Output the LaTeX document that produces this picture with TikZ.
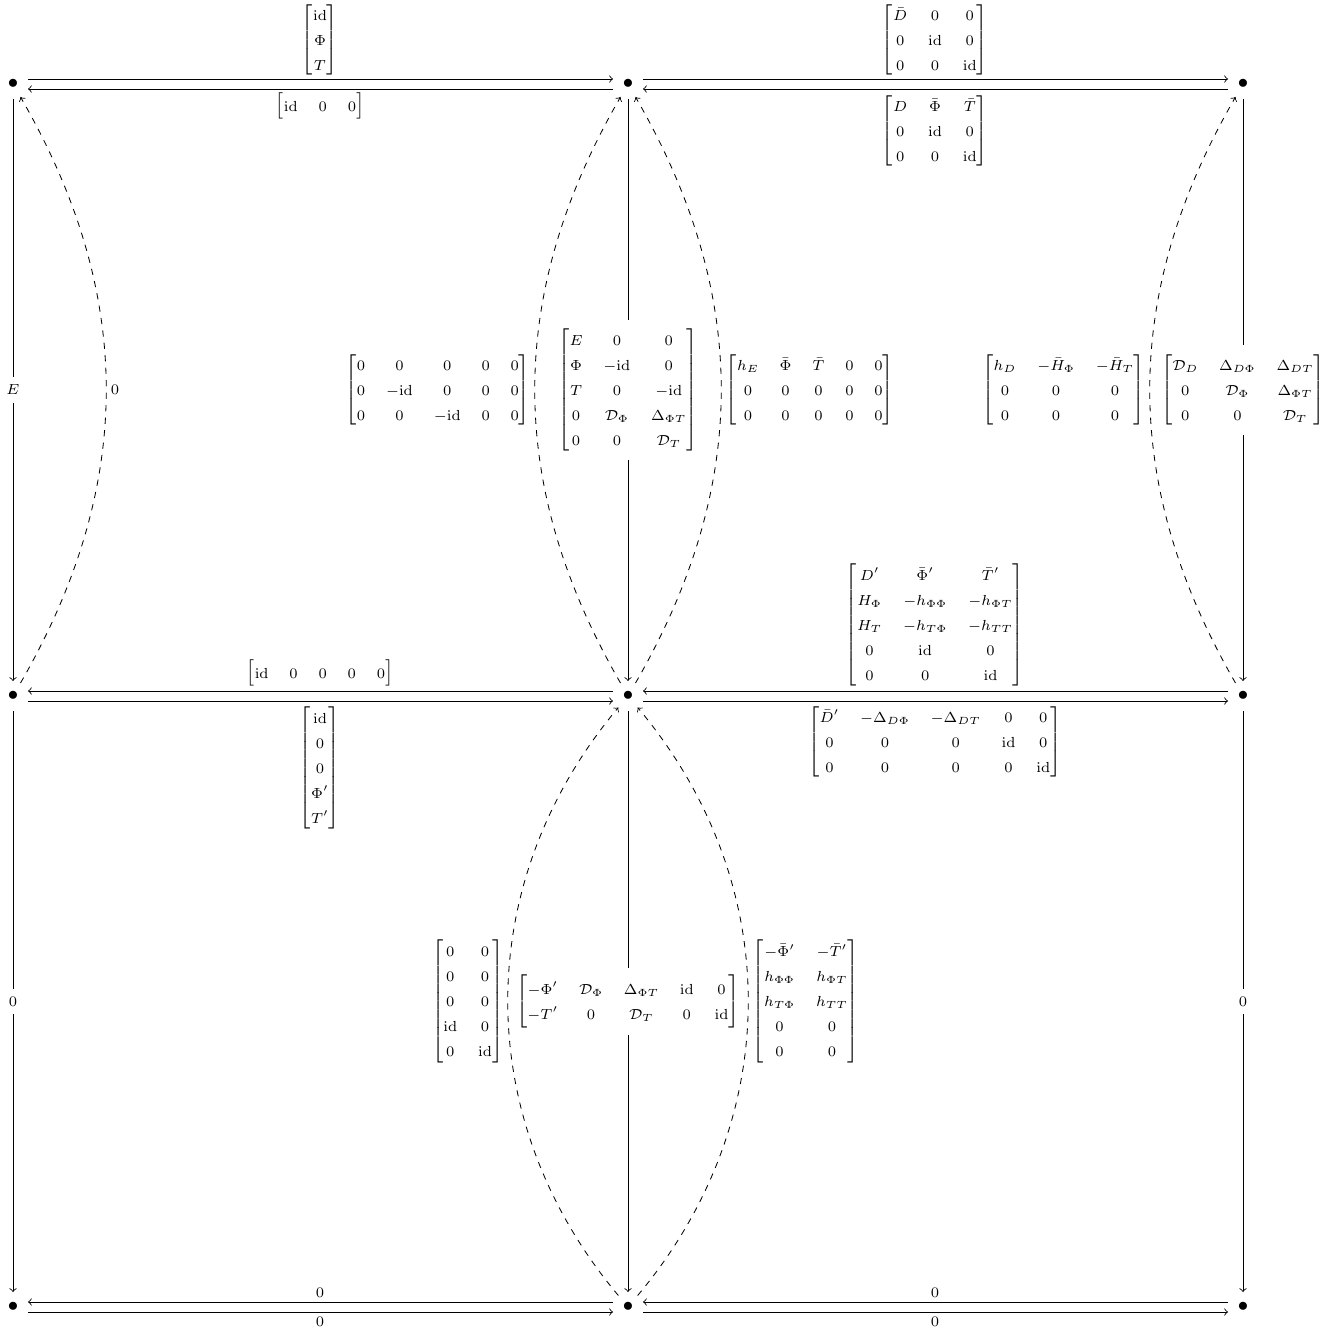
\documentclass[tikz,border=0pt]{standalone}
\usepackage{amsmath}
\tikzset{
  pt/.style={circle, minimum size=14pt, inner sep=0pt},
  lab/.style={font=\everymath\expandafter{\the\everymath\scriptstyle}, inner sep=0pt},
  desc/.style={lab, fill=white, inner sep=3.7pt},
  side/.style={lab, inner sep=2pt},
  arr/.style={->},
  homot/.style={->, dashed},
}
\newcommand{\idm}{\mathrm{id}}
\begin{document}
\begin{tikzpicture}[x=0.48pt,y=-0.48pt,>=to,line width=0.4pt]
\useasboundingbox (0,0) rectangle (1337,1332);
% vertices
\node[pt] (A1) at (13,84) {$\bullet$};
\node[pt] (B1) at (628,84) {$\bullet$};
\node[pt] (C1) at (1243,84) {$\bullet$};
\node[pt] (A2) at (13,696) {$\bullet$};
\node[pt] (B2) at (628,696) {$\bullet$};
\node[pt] (C2) at (1243,696) {$\bullet$};
\node[pt] (A3) at (13,1307) {$\bullet$};
\node[pt] (B3) at (628,1307) {$\bullet$};
\node[pt] (C3) at (1243,1307) {$\bullet$};

% row 1
\draw[arr] ([yshift=2.4pt]A1.east) -- ([yshift=2.4pt]B1.west);
\draw[arr] ([yshift=-2.4pt]B1.west) -- ([yshift=-2.4pt]A1.east);
\draw[arr] ([yshift=2.4pt]B1.east) -- ([yshift=2.4pt]C1.west);
\draw[arr] ([yshift=-2.4pt]C1.west) -- ([yshift=-2.4pt]B1.east);
\node[lab] (l1) at (320,40) {$\begin{bmatrix}\idm\\\Phi\\T\end{bmatrix}$};
\node[lab] (l2) at (320,106) {$\begin{bmatrix}\idm&0&0\end{bmatrix}$};
\node[lab] (l3) at (935,40) {$\begin{bmatrix}\bar D&0&0\\0&\idm&0\\0&0&\idm\end{bmatrix}$};
\node[lab] (l4) at (935,131) {$\begin{bmatrix}D&\bar\Phi&\bar T\\0&\idm&0\\0&0&\idm\end{bmatrix}$};

% row 2
\draw[arr] ([yshift=2.4pt]B2.west) -- ([yshift=2.4pt]A2.east);
\draw[arr] ([yshift=-2.4pt]A2.east) -- ([yshift=-2.4pt]B2.west);
\draw[arr] ([yshift=2.4pt]C2.west) -- ([yshift=2.4pt]B2.east);
\draw[arr] ([yshift=-2.4pt]B2.east) -- ([yshift=-2.4pt]C2.west);
\node[lab] (l5) at (320,673) {$\begin{bmatrix}\idm&0&0&0&0\end{bmatrix}$};
\node[lab] (l6) at (320,768) {$\begin{bmatrix}\idm\\0\\0\\\Phi'\\T'\end{bmatrix}$};
\node[lab] (l7) at (935,625) {$\begin{bmatrix}D'&\bar\Phi'&\bar T'\\H_\Phi&-h_{\Phi\Phi}&-h_{\Phi T}\\H_T&-h_{T\Phi}&-h_{TT}\\0&\idm&0\\0&0&\idm\end{bmatrix}$};
\node[lab] (l8) at (935,742) {$\begin{bmatrix}\bar D'&-\Delta_{D\Phi}&-\Delta_{DT}&0&0\\0&0&0&\idm&0\\0&0&0&0&\idm\end{bmatrix}$};

% row 3
\draw[arr] ([yshift=2.4pt]B3.west) -- ([yshift=2.4pt]A3.east);
\draw[arr] ([yshift=-2.4pt]A3.east) -- ([yshift=-2.4pt]B3.west);
\draw[arr] ([yshift=2.4pt]C3.west) -- ([yshift=2.4pt]B3.east);
\draw[arr] ([yshift=-2.4pt]B3.east) -- ([yshift=-2.4pt]C3.west);
\node[lab] (l9) at (320,1293) {$0$};
\node[lab] (l10) at (320,1322) {$0$};
\node[lab] (l11) at (935,1293) {$0$};
\node[lab] (l12) at (935,1322) {$0$};

% verticals
\draw[arr] (A1) -- node[desc] (v1) {$E$} (A2);
\draw[arr] (B1) -- node[desc] (v2) {$\begin{bmatrix}E&0&0\\\Phi&-\idm&0\\T&0&-\idm\\0&\mathcal{D}_\Phi&\Delta_{\Phi T}\\0&0&\mathcal{D}_T\end{bmatrix}$} (B2);
\draw[arr] (C1) -- node[desc] (v3) {$\begin{bmatrix}\mathcal{D}_D&\Delta_{D\Phi}&\Delta_{DT}\\0&\mathcal{D}_\Phi&\Delta_{\Phi T}\\0&0&\mathcal{D}_T\end{bmatrix}$} (C2);
\draw[arr] (A2) -- node[desc] (v4) {$0$} (A3);
\draw[arr] (B2) -- node[desc] (v5) {$\begin{bmatrix}-\Phi'&\mathcal{D}_\Phi&\Delta_{\Phi T}&\idm&0\\-T'&0&\mathcal{D}_T&0&\idm\end{bmatrix}$} (B3);
\draw[arr] (C2) -- node[desc] (v6) {$0$} (C3);

% homotopies
\draw[homot] (A2) to[bend right=30] node[side, right] (h1) {$0$} (A1);
\draw[homot] (B2) to[bend left=30] node[side, left] (h2) {$\begin{bmatrix}0&0&0&0&0\\0&-\idm&0&0&0\\0&0&-\idm&0&0\end{bmatrix}$} (B1);
\draw[homot] (B2) to[bend right=30] node[side, right] (h3) {$\begin{bmatrix}h_E&\bar\Phi&\bar T&0&0\\0&0&0&0&0\\0&0&0&0&0\end{bmatrix}$} (B1);
\draw[homot] (C2) to[bend left=30] node[side, left] (h4) {$\begin{bmatrix}h_D&-\bar H_\Phi&-\bar H_T\\0&0&0\\0&0&0\end{bmatrix}$} (C1);
\draw[homot] (B3) to[bend left=40] node[side, left] (h5) {$\begin{bmatrix}0&0\\0&0\\0&0\\\idm&0\\0&\idm\end{bmatrix}$} (B2);
\draw[homot] (B3) to[bend right=40] node[side, right] (h6) {$\begin{bmatrix}-\bar\Phi'&-\bar T'\\h_{\Phi\Phi}&h_{\Phi T}\\h_{T\Phi}&h_{TT}\\0&0\\0&0\end{bmatrix}$} (B2);
\end{tikzpicture}
\end{document}
